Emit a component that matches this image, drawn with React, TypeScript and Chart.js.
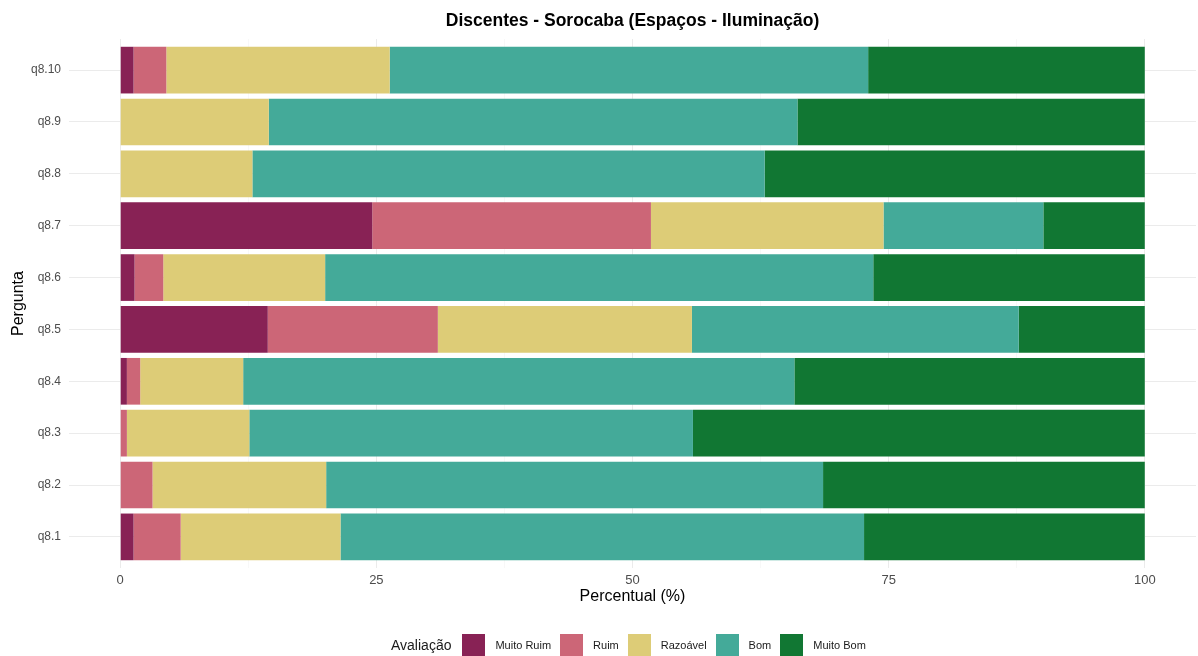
import React, { useEffect, useRef } from 'react';
import { Chart, registerables } from 'chart.js';

Chart.register(...registerables);

const TITLE = 'Discentes - Sorocaba (Espaços - Iluminação)';
const X_TITLE = 'Percentual (%)';
const Y_TITLE = 'Pergunta';
const LEGEND_TITLE = 'Avaliação';

const questions = ['q8.1', 'q8.2', 'q8.3', 'q8.4', 'q8.5', 'q8.6', 'q8.7', 'q8.8', 'q8.9', 'q8.10'];
const ratingLabels = ['Muito Ruim', 'Ruim', 'Razoável', 'Bom', 'Muito Bom'];
const ratingColors = ['#882255', '#CC6677', '#DDCC77', '#44AA99', '#117733'];

// values in %, one entry per question (q8.1 ... q8.10)
const muitoRuim = [1.3, 0, 0, 0.65, 14.4, 1.4, 24.6, 0, 0, 1.3];
const ruim = [4.6, 3.15, 0.65, 1.3, 16.6, 2.8, 27.2, 0, 0, 3.2];
const razoavel = [15.6, 16.95, 11.95, 10.05, 24.8, 15.8, 22.7, 12.9, 14.5, 21.8];
const bom = [51.1, 48.5, 43.3, 53.8, 31.9, 53.5, 15.6, 50.0, 51.6, 46.7];
const muitoBom = [27.4, 31.4, 44.1, 34.2, 12.3, 26.5, 9.9, 37.1, 33.9, 27.0];

const xMajorTicks = [0, 25, 50, 75, 100];
const xMinorTicks = [12.5, 37.5, 62.5, 87.5];

const FONT = '"Liberation Sans", Arial, Helvetica, sans-serif';

export default function App() {
  const canvasRef = useRef<HTMLCanvasElement | null>(null);

  useEffect(() => {
    document.body.style.margin = '0';
    const seriesValues = [muitoRuim, ruim, razoavel, bom, muitoBom];
    const allXTicks = [...xMajorTicks, ...xMinorTicks].sort((a, b) => a - b);
    const isMajor = (v: number) => xMajorTicks.includes(v);

    const chart = new Chart(canvasRef.current as HTMLCanvasElement, {
      type: 'bar',
      data: {
        datasets: ratingLabels.map((label, k) => ({
          label,
          data: questions.map((_, i) => ({ x: seriesValues[k][i], y: i + 1 })),
          backgroundColor: ratingColors[k],
          borderWidth: 0,
          stack: 'all',
          barPercentage: 0.9,
          categoryPercentage: 1,
        })),
      },
      options: {
        indexAxis: 'y',
        responsive: false,
        animation: false,
        layout: { padding: { top: 39, right: 2, bottom: 46, left: 0 } },
        plugins: {
          legend: { display: false },
          title: { display: false },
          tooltip: { enabled: false },
        },
        scales: {
          x: {
            type: 'linear',
            min: -5,
            max: 105,
            stacked: true,
            offset: false,
            afterBuildTicks: (axis: any) => {
              axis.ticks = allXTicks.map((v) => ({ value: v }));
            },
            afterFit: (s: any) => {
              s.height = 42;
            },
            border: { display: false },
            grid: {
              drawTicks: false,
              offset: false,
              color: (ctx: any) => (ctx.tick && isMajor(ctx.tick.value) ? '#EBEBEB' : '#F5F5F5'),
              lineWidth: (ctx: any) => (ctx.tick && isMajor(ctx.tick.value) ? 1 : 0.7),
            },
            ticks: {
              autoSkip: false,
              maxRotation: 0,
              padding: 5,
              color: '#4D4D4D',
              font: { family: FONT, size: 13 },
              callback: (v: any) => (isMajor(Number(v)) ? String(v) : ''),
            },
            title: {
              display: true,
              text: X_TITLE,
              color: '#000000',
              font: { family: FONT, size: 16 },
              padding: { top: 4, bottom: 4 },
            },
          },
          y: {
            type: 'linear',
            min: 0.4,
            max: 10.6,
            offset: false,
            afterBuildTicks: (axis: any) => {
              axis.ticks = questions.map((_, i) => ({ value: i + 1 }));
            },
            afterFit: (s: any) => {
              s.width = 69;
            },
            border: { display: false },
            grid: {
              drawTicks: false,
              offset: false,
              color: '#EBEBEB',
              lineWidth: 1,
            },
            ticks: {
              autoSkip: false,
              padding: 8,
              color: '#4D4D4D',
              font: { family: FONT, size: 12 },
              callback: (v: any) => questions[Math.round(Number(v)) - 1] ?? '',
            },
            title: {
              display: true,
              text: Y_TITLE,
              color: '#000000',
              font: { family: FONT, size: 16 },
              padding: { top: 9, bottom: 4 },
            },
          },
        },
      } as any,
    });
    return () => chart.destroy();
  }, []);

  return (
    <div
      style={{
        position: 'fixed',
        left: 0,
        top: 0,
        width: 1198,
        height: 656,
        background: '#ffffff',
        fontFamily: FONT,
        overflow: 'hidden',
      }}
    >
      <canvas ref={canvasRef} width={1198} height={656} style={{ display: 'block' }} />
      <div
        style={{
          position: 'absolute',
          left: 69,
          width: 1127,
          top: 10,
          textAlign: 'center',
          fontWeight: 'bold',
          fontSize: 17.5,
          lineHeight: '20px',
          color: '#000',
        }}
      >
        {TITLE}
      </div>
      <div
        style={{
          position: 'absolute',
          left: 391,
          top: 633,
          height: 23,
          display: 'flex',
          alignItems: 'center',
          whiteSpace: 'nowrap',
        }}
      >
        <span style={{ fontSize: 14, color: '#1A1A1A', marginRight: 11 }}>{LEGEND_TITLE}</span>
        {ratingLabels.map((label, k) => (
          <span key={label} style={{ display: 'flex', alignItems: 'center', marginRight: 9 }}>
            <span
              style={{
                display: 'inline-block',
                width: 23,
                height: 22,
                background: ratingColors[k],
                marginRight: 10,
              }}
            />
            <span style={{ fontSize: 11, color: '#1A1A1A' }}>{label}</span>
          </span>
        ))}
      </div>
    </div>
  );
}
